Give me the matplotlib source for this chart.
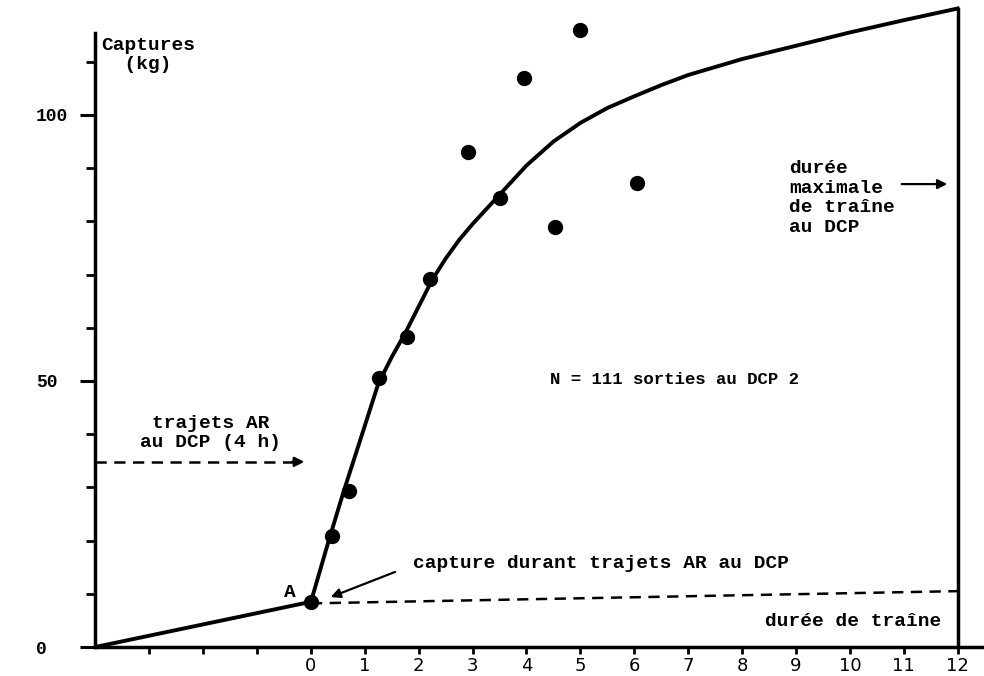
import matplotlib
matplotlib.use('Agg')
import matplotlib.pyplot as plt

# temps de trajet (h) / captures (kg) avant l'arrivee au DCP
trip_x = [-4, 0]
trip_y = [0, 8.5]

# courbe ajustee
curve_x = [0, 0.33, 0.6, 0.95, 1.25, 1.5, 1.75, 2.0, 2.25, 2.5, 2.75, 3.0, 3.5,
           4.0, 4.5, 5.0, 5.5, 6.0, 6.5, 7.0, 8.0, 9.0, 10.0, 11.0, 12.0]
curve_y = [8.5, 20.0, 29.0, 40.0, 49.5, 54.5, 59.0, 64.0, 69.0, 73.0, 76.5, 79.5, 85.0,
           90.5, 95.0, 98.5, 101.3, 103.5, 105.6, 107.5, 110.5, 113.0, 115.5, 117.8, 120.0]

# points observes
obs_x = [0.40, 0.71, 1.26, 1.78, 2.21, 2.91, 3.50, 3.95, 4.53, 5.00, 6.05]
obs_y = [20.9, 29.3, 50.6, 58.3, 69.2, 93.0, 84.4, 107.0, 79.0, 116.0, 87.2]

point_a = (0, 8.5)

# capture pendant les trajets (pointilles)
base_x = [0, 12]
base_y = [8.2, 10.5]

# duree maximale de traine
max_x = [12, 12]
max_y = [0, 120]

x_major = list(range(0, 13))
x_minor = [-3, -2, -1]
y_major = [0, 50, 100]
y_minor = [10, 20, 30, 40, 60, 70, 80, 90, 110]

mono = 'Liberation Mono'

fig = plt.figure(figsize=(9.84, 6.76), dpi=100)
ax = fig.add_axes([0, 0, 1, 1])
ax.set_xlim(-5.77, 12.49)
ax.set_ylim(-5.45, 121.6)

for s in ['top', 'right']:
    ax.spines[s].set_visible(False)
ax.spines['left'].set_position(('data', -4))
ax.spines['bottom'].set_position(('data', 0))
ax.spines['left'].set_bounds(0, 115.4)
ax.spines['bottom'].set_bounds(-4, 12.49)
for s in ['left', 'bottom']:
    ax.spines[s].set_linewidth(2.5)

ax.set_xticks(x_major)
ax.set_xticks(x_minor, minor=True)
ax.set_xticklabels([str(v) for v in x_major], fontfamily='DejaVu Sans', fontsize=13)
ax.set_yticks(y_major)
ax.set_yticks(y_minor, minor=True)
ax.set_yticklabels([str(v) for v in y_major], fontfamily=mono, fontweight='bold',
                   fontsize=13, ha='left')
ax.tick_params(axis='x', which='both', direction='out', length=5, width=2, pad=2)
ax.tick_params(axis='y', which='major', direction='out', length=11, width=2.2, pad=32)
ax.tick_params(axis='y', which='minor', direction='out', length=6.5, width=2)

ax.plot(trip_x, trip_y, color='black', lw=2.8, solid_capstyle='round')
ax.plot(curve_x, curve_y, color='black', lw=2.8, solid_joinstyle='round')
ax.plot(max_x, max_y, color='black', lw=2.5)
ax.plot(base_x, base_y, color='black', lw=1.8, dashes=(4.5, 3))
ax.plot(obs_x, obs_y, 'o', color='black', ms=10)
ax.plot([point_a[0]], [point_a[1]], 'o', color='black', ms=10)

# fleche pointillee : trajets AR au DCP
ax.plot([-4, -0.3], [34.8, 34.8], color='black', lw=1.8, dashes=(4.5, 3))
ax.annotate('', xy=(-0.07, 34.8), xytext=(-0.4, 34.8),
            arrowprops=dict(arrowstyle='-|>', color='black', lw=1.8,
                            mutation_scale=14))
# fleche vers A
ax.annotate('', xy=(0.32, 9.2), xytext=(1.61, 14.3),
            arrowprops=dict(arrowstyle='-|>', color='black', lw=1.6,
                            mutation_scale=14))
# fleche duree maximale
ax.annotate('', xy=(11.86, 87.0), xytext=(10.91, 87.0),
            arrowprops=dict(arrowstyle='-|>', color='black', lw=1.6,
                            mutation_scale=14))

tk = dict(fontfamily=mono, fontweight='bold', fontsize=14, color='black')
ax.text(-3.90, 111.3, 'Captures\n  (kg)', ha='left', va='center',
        multialignment='left', linespacing=1.2, **tk)
ax.text(-1.86, 40.2, 'trajets AR\nau DCP (4 h)', ha='center', va='center',
        multialignment='center', linespacing=1.2, **tk)
ax.text(8.87, 84.4, 'durée\nmaximale\nde traîne\nau DCP', ha='left', va='center',
        multialignment='left', linespacing=1.2, **tk)
ax.text(6.75, 50.2, 'N = 111 sorties au DCP 2', ha='center', va='center',
        fontfamily=mono, fontweight='bold', fontsize=12.5, color='black')
ax.text(1.89, 15.6, 'capture durant trajets AR au DCP', ha='left', va='center', **tk)
ax.text(-0.39, 10.3, 'A', ha='center', va='center', **tk)
ax.text(10.06, 4.7, 'durée de traîne', ha='center', va='center', **tk)

fig.savefig('out.png', dpi=100, facecolor='white')
